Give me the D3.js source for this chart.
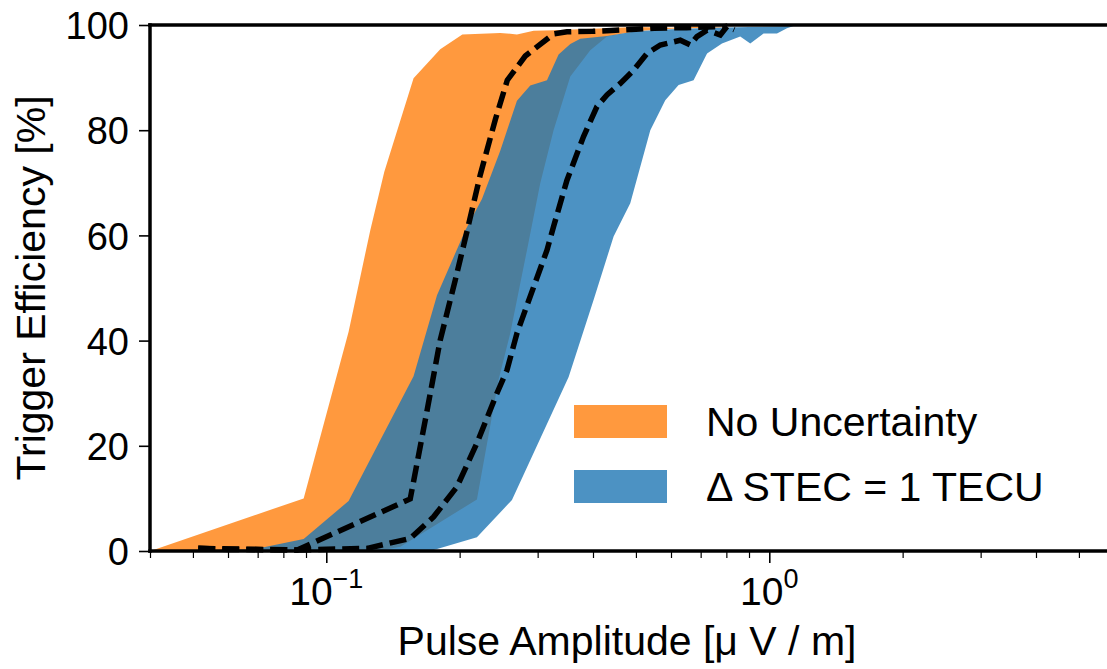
<!DOCTYPE html>
<html>
<head>
<meta charset="utf-8">
<script src="https://cdn.jsdelivr.net/npm/d3@7"></script>
<style>
  body { margin: 0; background: #fff; }
  svg text { font-family: "Liberation Sans", Arial, sans-serif; fill: #000; }
</style>
</head>
<body>
<svg id="chart" width="1107" height="669"></svg>
<script>
// band edges (amplitude in uV/m, efficiency in %)
var orangeUpperX = [0.0401, 0.0889, 0.1123, 0.1257, 0.1352, 0.1574, 0.1808, 0.2028, 0.2470, 0.2694, 0.2938, 0.3259, 0.40, 0.50, 0.60, 0.70, 0.83];
var orangeUpperY = [0, 10.0, 41.7, 61.0, 72.1, 89.9, 95.4, 98.2, 98.5, 98.2, 98.9, 99.0, 99.3, 99.6, 99.5, 99.8, 99.6];
var orangeLowerX = [0.0401, 0.130, 0.147, 0.2188, 0.2448, 0.2602, 0.2838, 0.3041, 0.3259, 0.3555, 0.3944, 0.4301, 0.50, 0.60, 0.75, 0.83];
var orangeLowerY = [0, 0, 0.8, 9.8, 32.5, 41.4, 57.2, 69.9, 80.0, 90.2, 95.2, 97.8, 98.8, 99.3, 99.5, 99.6];

var blueUpperX = [0.0401, 0.0685, 0.0889, 0.1123, 0.1574, 0.1778, 0.2060, 0.2246, 0.2470, 0.2694, 0.2887, 0.3149, 0.3345, 0.3555, 0.3744, 0.4301, 0.50, 0.60, 0.75, 0.90, 1.1348];
var blueUpperY = [0, 0.3, 2.3, 9.5, 33.2, 48.6, 61.0, 66.9, 76.1, 85.6, 88.5, 89.5, 94.4, 96.4, 97.4, 97.9, 98.8, 99.2, 99.5, 99.6, 99.8];
var blueLowerX = [0.0401, 0.1717, 0.2188, 0.2625, 0.3524, 0.4012, 0.4452, 0.4855, 0.5388, 0.5824, 0.6241, 0.6747, 0.7236, 0.7820, 0.8599, 0.9059, 0.9709, 1.0409, 1.0963, 1.1348];
var blueLowerY = [0, 0, 2.6, 9.7, 33.1, 47.7, 59.8, 66.1, 80.0, 85.7, 88.6, 89.5, 94.6, 96.5, 97.8, 96.5, 98.4, 98.4, 99.4, 99.8];

// median curves (dashed)
var orangeMedX = [0.0514, 0.0597, 0.0860, 0.1547, 0.1673, 0.1808, 0.1955, 0.2081, 0.2226, 0.2407, 0.2562, 0.2813, 0.3259, 0.3494, 0.40, 0.45, 0.50, 0.55, 0.65, 0.72, 0.80];
var orangeMedY = [0.5, 0.3, 0.2, 9.9, 24.9, 40.1, 51.5, 61.0, 71.5, 82.0, 89.5, 94.1, 98.3, 98.7, 98.8, 99.0, 99.2, 99.4, 99.5, 99.6, 99.7];
var blueMedX = [0.0514, 0.0860, 0.1238, 0.1547, 0.1747, 0.1972, 0.2188, 0.2428, 0.2558, 0.2694, 0.2938, 0.3149, 0.3259, 0.3494, 0.3808, 0.4083, 0.4301, 0.4610, 0.4939, 0.5296, 0.5675, 0.6296, 0.6633, 0.6866, 0.7236, 0.7752, 0.8025, 0.8336];
var blueMedY = [0.5, 0.2, 0.5, 2.4, 6.5, 12.2, 20.5, 30.0, 34.4, 41.4, 50.2, 57.2, 61.7, 70.5, 78.8, 84.5, 86.7, 88.9, 91.4, 94.6, 96.2, 97.1, 96.2, 97.8, 99.0, 98.1, 99.7, 99.1];

var yTicks = [0, 20, 40, 60, 80, 100];
var xMajor = [0.1, 1];
var xMajorExp = ["\u22121", "0"];
var legendLabels = ["No Uncertainty", "\u0394 STEC = 1 TECU"];
var colors = ["rgba(255,127,14,0.8)", "rgba(31,119,180,0.8)"];

var svg = d3.select("#chart");

var x = d3.scaleLog().domain([0.04, 6]).range([150, 1114]);
var y = d3.scaleLinear().domain([0, 100]).range([551, 25]);

function zip(xs, ys) {
  return xs.map(function (v, i) { return [v, ys[i]]; });
}

var line = d3.line()
  .x(function (d) { return x(d[0]); })
  .y(function (d) { return y(d[1]); });

// bands: upper edge left->right, then lower edge back
var bands = [
  zip(orangeUpperX, orangeUpperY).concat(zip(orangeLowerX, orangeLowerY).reverse()),
  zip(blueUpperX, blueUpperY).concat(zip(blueLowerX, blueLowerY).reverse())
];

svg.selectAll("path.band")
  .data(bands)
  .enter()
  .append("path")
  .attr("class", "band")
  .attr("d", function (d) { return line(d) + "Z"; })
  .attr("fill", function (d, i) { return colors[i]; })
  .attr("stroke", "none");

// dashed medians
[zip(orangeMedX, orangeMedY), zip(blueMedX, blueMedY)].forEach(function (pts) {
  svg.append("path")
    .attr("d", line(pts))
    .attr("fill", "none")
    .attr("stroke", "#000")
    .attr("stroke-width", 5.5)
    .attr("stroke-dasharray", "17,7");
});

// y axis
var yAxis = svg.append("g")
  .attr("transform", "translate(150,0)")
  .call(d3.axisLeft(y).tickValues(yTicks).tickSize(11).tickPadding(10));
yAxis.select(".domain").remove();
yAxis.selectAll("line").attr("stroke", "#000").attr("stroke-width", 1.6);
yAxis.selectAll("text")
  .style("font-size", "38px")
  .attr("dy", "0.36em");

// x axis: minor ticks
var minor = x.ticks().filter(function (v) {
  return Math.abs(Math.log10(v) - Math.round(Math.log10(v))) > 1e-6;
});
var xMinorAxis = svg.append("g")
  .attr("transform", "translate(0,551)")
  .call(d3.axisBottom(x).tickValues(minor).tickSize(7).tickFormat(""));
xMinorAxis.select(".domain").remove();
xMinorAxis.selectAll("line").attr("stroke", "#000").attr("stroke-width", 1.2);

var xAxis = svg.append("g")
  .attr("transform", "translate(0,551)")
  .call(d3.axisBottom(x).tickValues(xMajor).tickSize(12).tickFormat(""));
xAxis.select(".domain").remove();
xAxis.selectAll("line").attr("stroke", "#000").attr("stroke-width", 1.6);

xMajor.forEach(function (v, i) {
  var t = svg.append("text")
    .attr("x", x(v))
    .attr("y", 605)
    .attr("text-anchor", "middle")
    .style("font-size", "39px");
  t.append("tspan").text("10");
  t.append("tspan")
    .attr("dy", -17)
    .style("font-size", "27px")
    .text(xMajorExp[i]);
});

// spines
var spines = svg.append("g").attr("stroke", "#000").attr("stroke-width", 3.5).attr("stroke-linecap", "square");
spines.append("line").attr("x1", 150).attr("x2", 150).attr("y1", y(100)).attr("y2", y(0));
spines.append("line").attr("x1", 150).attr("x2", 1114).attr("y1", y(0)).attr("y2", y(0));
spines.append("line").attr("x1", 150).attr("x2", 1114).attr("y1", y(100)).attr("y2", y(100));

// axis labels
svg.append("text")
  .attr("x", 627)
  .attr("y", 655)
  .attr("text-anchor", "middle")
  .style("font-size", "41px")
  .text("Pulse Amplitude [\u03bc V / m]");

svg.append("text")
  .attr("transform", "translate(45,288) rotate(-90)")
  .attr("text-anchor", "middle")
  .style("font-size", "41px")
  .text("Trigger Efficiency [%]");

// legend
var legend = svg.append("g").attr("transform", "translate(574,405)");
legendLabels.forEach(function (lab, i) {
  legend.append("rect")
    .attr("x", 0)
    .attr("y", i * 65)
    .attr("width", 93)
    .attr("height", 33)
    .attr("fill", colors[i]);
  legend.append("text")
    .attr("x", 132)
    .attr("y", i * 65 + 16.5)
    .attr("dy", "0.36em")
    .style("font-size", "41px")
    .text(lab);
});
</script>
</body>
</html>
